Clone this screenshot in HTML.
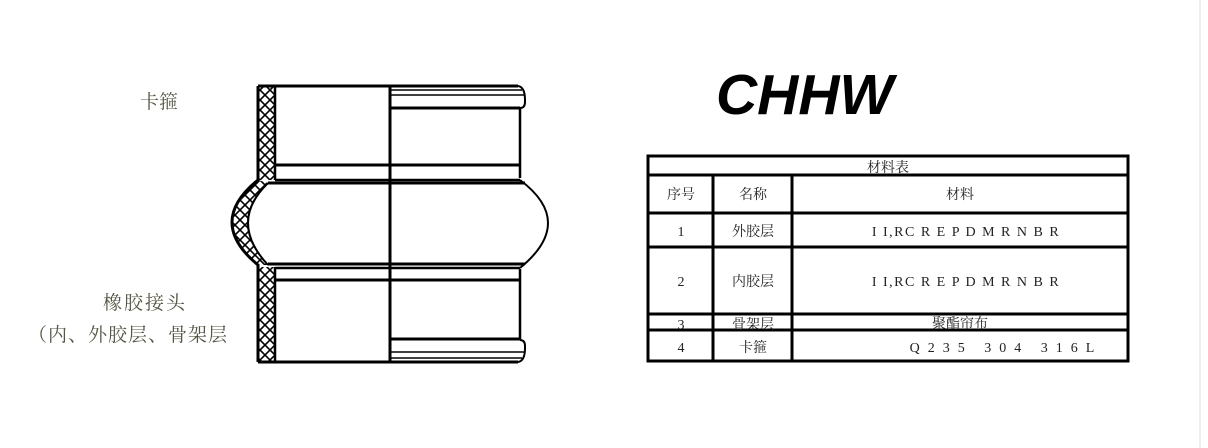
<!DOCTYPE html>
<html><head><meta charset="utf-8"><style>
body{margin:0;background:#fff;}
svg{display:block;font-family:"Liberation Serif","Noto Serif CJK SC",serif;}
</style></head><body>
<svg width="1208" height="448" viewBox="0 0 1208 448" xmlns="http://www.w3.org/2000/svg">
<defs>
<pattern id="h" width="10" height="10" patternUnits="userSpaceOnUse">
<path d="M0,0L10,10M10,0L0,10" stroke="#000" stroke-width="1.6"/>
</pattern>
</defs>
<line x1="1200" y1="0" x2="1200" y2="448" stroke="#ddd"/>
<text x="140" y="108" font-size="19" fill="#554">卡箍</text>
<text x="103" y="309" font-size="19" fill="#554" letter-spacing="2">橡胶接头</text>
<text x="28" y="341" font-size="19" fill="#554" letter-spacing="1">（内、外胶层、骨架层</text>
<g fill="none" stroke="#000">
<rect x="258" y="86" width="17" height="94" fill="url(#h)" stroke="none"/>
<rect x="258" y="267" width="17" height="95" fill="url(#h)" stroke="none"/>
<path d="M258,180 Q206,222 258,265 L268,265 Q228,222 268,183 Z" fill="url(#h)" stroke="none"/>
<path d="M258,86 L258,180 Q206,222 258,265 L258,362" stroke-width="3"/>
<path d="M268,183 Q228,222 268,265" stroke-width="2"/>
<line x1="275" y1="86" x2="275" y2="180" stroke-width="2.5"/>
<line x1="275" y1="267" x2="275" y2="362" stroke-width="2.5"/>
<line x1="258" y1="86" x2="518" y2="86" stroke-width="3"/>
<line x1="258" y1="362" x2="518" y2="362" stroke-width="3"/>
<path d="M518,86 Q525,87 525,100 L525,102 Q525,108 520,108" stroke-width="2"/>
<path d="M518,362 Q525,361 525,348 L525,346 Q525,340 520,340" stroke-width="2"/>
<line x1="390" y1="86" x2="390" y2="362" stroke-width="3"/>
<line x1="390" y1="90" x2="522" y2="90" stroke-width="1.5"/>
<line x1="390" y1="95" x2="524" y2="95" stroke-width="1.5"/>
<line x1="390" y1="108" x2="520" y2="108" stroke-width="3"/>
<line x1="390" y1="358" x2="522" y2="358" stroke-width="1.5"/>
<line x1="390" y1="352" x2="524" y2="352" stroke-width="1.5"/>
<line x1="390" y1="339" x2="520" y2="339" stroke-width="3"/>
<line x1="520" y1="108" x2="520" y2="178" stroke-width="2.5"/>
<line x1="520" y1="269" x2="520" y2="339" stroke-width="2.5"/>
<line x1="275" y1="165" x2="520" y2="165" stroke-width="3"/>
<line x1="275" y1="180" x2="520" y2="180" stroke-width="2.5"/>
<line x1="268" y1="183" x2="525" y2="183" stroke-width="3"/>
<line x1="268" y1="264" x2="525" y2="264" stroke-width="3"/>
<line x1="275" y1="268" x2="520" y2="268" stroke-width="2.5"/>
<line x1="275" y1="280" x2="520" y2="280" stroke-width="3"/>
<path d="M520,180 Q576,222 520,268" stroke-width="2"/>
</g>
<text x="716" y="114" font-family="Liberation Sans,sans-serif" font-size="57" font-weight="bold" font-style="italic">CHHW</text>
<g stroke="#000" stroke-width="3" fill="none">
<rect x="648" y="156" width="480" height="205"/>
<line x1="648" y1="175" x2="1128" y2="175"/>
<line x1="648" y1="213" x2="1128" y2="213"/>
<line x1="648" y1="247" x2="1128" y2="247"/>
<line x1="648" y1="314" x2="1128" y2="314"/>
<line x1="648" y1="330" x2="1128" y2="330"/>
<line x1="713" y1="175" x2="713" y2="361"/>
<line x1="792" y1="175" x2="792" y2="361"/>
</g>
<g font-size="14" fill="#222" text-anchor="middle">
<text x="888" y="172">材料表</text>
<text x="681" y="199">序号</text><text x="753" y="199">名称</text><text x="960" y="199">材料</text>
<text x="681" y="236">1</text><text x="753" y="236">外胶层</text>
<text x="966" y="236" letter-spacing="1.5">I I,RC R E P D M R N B R</text>
<text x="681" y="286">2</text><text x="753" y="286">内胶层</text>
<text x="966" y="286" letter-spacing="1.5">I I,RC R E P D M R N B R</text>
<text x="681" y="329">3</text><text x="753" y="329">骨架层</text><text x="960" y="328">聚酯帘布</text>
<text x="681" y="352">4</text><text x="753" y="352">卡箍</text>
<text x="1006" y="352" letter-spacing="8">Q235  304  316L</text>
</g>
</svg>
</body></html>
